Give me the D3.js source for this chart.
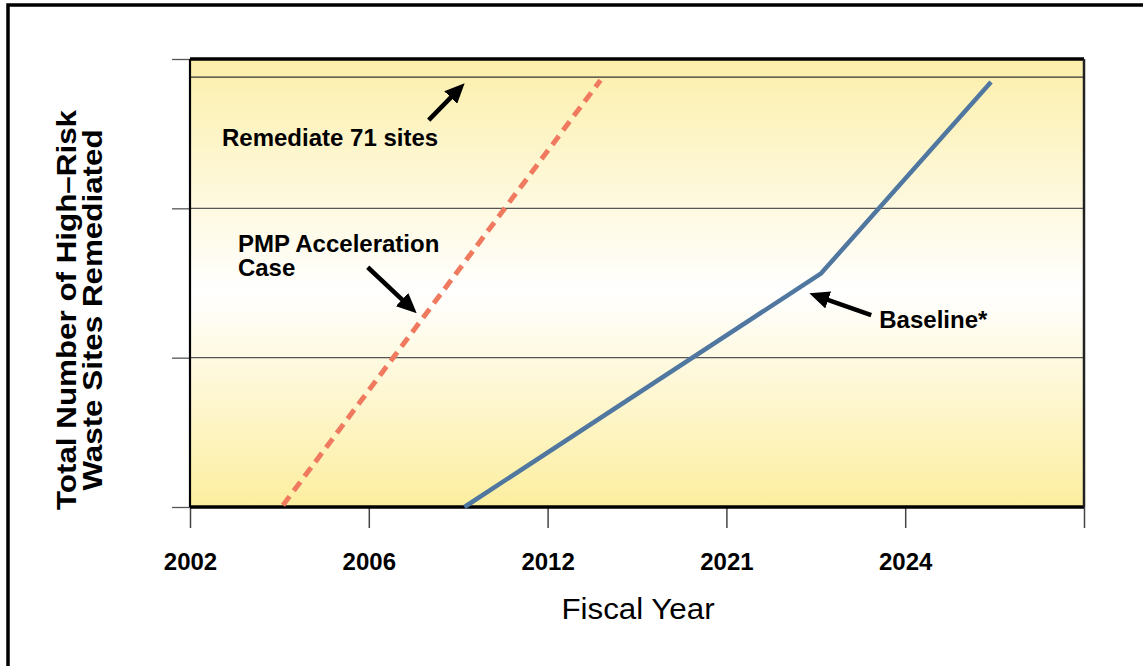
<!DOCTYPE html>
<html>
<head>
<meta charset="utf-8">
<script src="https://cdn.jsdelivr.net/npm/d3@7"></script>
<style>
  body { margin: 0; background: #fff; }
  text { font-family: "Liberation Sans", Arial, sans-serif; }
</style>
</head>
<body>
<svg id="chart"></svg>
<script>
// x positions are slot indexes on the category axis (0 = 2002 ... 5 = unlabeled end tick)
var xLabels = ["2002", "2006", "2012", "2021", "2024", ""];
var yMax = 74;
var target = 71;

var baselineX = [1.535, 3.53, 4.48];
var baselineY = [0, 38.6, 70.2];

var pmpX = [0.52, 2.296];
var pmpY = [0.3, 70.5];

// annotations in data units: text and arrow tail -> tip
var notes = [
  { lines: ["Remediate 71 sites"], x: 0.179, y: 59.6, from: [1.335, 63.9], to: [1.536, 70.0] },
  { lines: ["PMP Acceleration", "Case"], x: 0.268, y: 42.1, from: [0.994, 39.6], to: [1.268, 32.0] },
  { lines: ["Baseline*"], x: 3.855, y: 29.6, from: [3.81, 31.7], to: [3.464, 35.3] }
];

var W = 1143, H = 666;
var margin = { top: 59, right: 59, bottom: 159, left: 190 },
    width = W - margin.left - margin.right,
    height = H - margin.top - margin.bottom;

var svg = d3.select("#chart").attr("width", W).attr("height", H);

// outer frame (runs off the right and bottom edge)
svg.append("rect")
    .attr("x", 8).attr("y", 5)
    .attr("width", W + 10).attr("height", H + 10)
    .attr("fill", "none").attr("stroke", "#000").attr("stroke-width", 3.5);

var defs = svg.append("defs");
var grad = defs.append("linearGradient")
    .attr("id", "bg").attr("x1", 0).attr("y1", 0).attr("x2", 0).attr("y2", 1);
grad.append("stop").attr("offset", "0%").attr("stop-color", "#fcefaa");
grad.append("stop").attr("offset", "52%").attr("stop-color", "#ffffff");
grad.append("stop").attr("offset", "100%").attr("stop-color", "#fcee9f");

defs.append("marker")
    .attr("id", "head")
    .attr("markerUnits", "userSpaceOnUse")
    .attr("viewBox", "0 0 20 18")
    .attr("markerWidth", 20).attr("markerHeight", 18)
    .attr("refX", 8).attr("refY", 9)
    .attr("orient", "auto")
    .append("path").attr("d", "M0,0L20,9L0,18Z").attr("fill", "#000");

var g = svg.append("g")
    .attr("transform", "translate(" + margin.left + "," + margin.top + ")");

var x = d3.scaleLinear().domain([0, xLabels.length - 1]).range([0, width]);
var y = d3.scaleLinear().domain([0, yMax]).range([height, 0]);
var yTicks = d3.range(4).map(function (i) { return i * yMax / 3; });

g.append("rect")
    .attr("width", width).attr("height", height)
    .attr("fill", "url(#bg)");

// gridlines
g.selectAll(".grid")
    .data(yTicks.slice(1, 3))
    .enter().append("line")
    .attr("x1", 0).attr("x2", width)
    .attr("y1", function (d) { return y(d); })
    .attr("y2", function (d) { return y(d); })
    .attr("stroke", "#555").attr("stroke-width", 1.3);

// target line
g.append("line")
    .attr("x1", 0).attr("x2", width)
    .attr("y1", y(target)).attr("y2", y(target))
    .attr("stroke", "#333").attr("stroke-width", 1.2);

// y axis ticks, no labels
var yAxis = g.append("g")
    .call(d3.axisLeft(y).tickValues(yTicks).tickSize(18).tickFormat(""));
yAxis.select(".domain").remove();
yAxis.selectAll(".tick line").attr("stroke", "#555").attr("stroke-width", 1.3);

// x axis
var xAxis = g.append("g")
    .attr("transform", "translate(0," + height + ")")
    .call(d3.axisBottom(x).tickValues(d3.range(xLabels.length))
        .tickSize(21).tickFormat(function (d) { return xLabels[d]; }));
xAxis.select(".domain").remove();
xAxis.selectAll(".tick line").attr("stroke", "#444").attr("stroke-width", 1.5);
xAxis.selectAll(".tick text")
    .attr("y", 63).attr("dy", 0)
    .attr("fill", "#000")
    .style("font-size", "24px").style("font-weight", "bold")
    .style("font-family", "'Liberation Sans', Arial, sans-serif");

// plot frame
g.append("line").attr("x1", 0).attr("x2", width).attr("y1", 0).attr("y2", 0)
    .attr("stroke", "#000").attr("stroke-width", 3.5);
g.append("line").attr("x1", 0).attr("x2", width).attr("y1", height).attr("y2", height)
    .attr("stroke", "#000").attr("stroke-width", 3.5);
g.append("line").attr("x1", 0).attr("x2", 0).attr("y1", 0).attr("y2", height)
    .attr("stroke", "#000").attr("stroke-width", 2.2);
g.append("line").attr("x1", width).attr("x2", width).attr("y1", 0).attr("y2", height)
    .attr("stroke", "#222").attr("stroke-width", 2.5);

var line = d3.line()
    .x(function (d) { return x(d[0]); })
    .y(function (d) { return y(d[1]); });

g.append("path")
    .datum(d3.zip(pmpX, pmpY))
    .attr("fill", "none")
    .attr("stroke", "#ef7a5f")
    .attr("stroke-width", 5)
    .attr("stroke-dasharray", "11,7")
    .attr("d", line);

g.append("path")
    .datum(d3.zip(baselineX, baselineY))
    .attr("fill", "none")
    .attr("stroke", "#4f77a0")
    .attr("stroke-width", 4.5)
    .attr("stroke-linejoin", "round")
    .attr("d", line);

// annotations
notes.forEach(function (n) {
    var x0 = x(n.from[0]), y0 = y(n.from[1]), x1 = x(n.to[0]), y1 = y(n.to[1]);
    var len = Math.sqrt((x1 - x0) * (x1 - x0) + (y1 - y0) * (y1 - y0));
    var k = (len - 12) / len;
    g.append("line")
        .attr("x1", x0).attr("y1", y0)
        .attr("x2", x0 + (x1 - x0) * k).attr("y2", y0 + (y1 - y0) * k)
        .attr("stroke", "#000").attr("stroke-width", 4.5)
        .attr("marker-end", "url(#head)");
    var t = g.append("text")
        .attr("x", x(n.x)).attr("y", y(n.y))
        .style("font-size", "24px").style("font-weight", "bold")
        .attr("fill", "#000");
    n.lines.forEach(function (s, i) {
        t.append("tspan").attr("x", x(n.x)).attr("dy", i === 0 ? 0 : 24).text(s);
    });
});

// axis titles
svg.append("text")
    .attr("transform", "translate(638,619) scale(1.08,1)")
    .attr("text-anchor", "middle")
    .style("font-size", "29px")
    .text("Fiscal Year");

var yt = svg.append("text")
    .attr("transform", "translate(76,310) rotate(-90) scale(1.12,1)")
    .attr("text-anchor", "middle")
    .style("font-size", "28px").style("font-weight", "bold");
yt.append("tspan").attr("x", 0).attr("y", 0).text("Total Number of High\u2013Risk");
yt.append("tspan").attr("x", 0).attr("y", 26).text("Waste Sites Remediated");
</script>
</body>
</html>
